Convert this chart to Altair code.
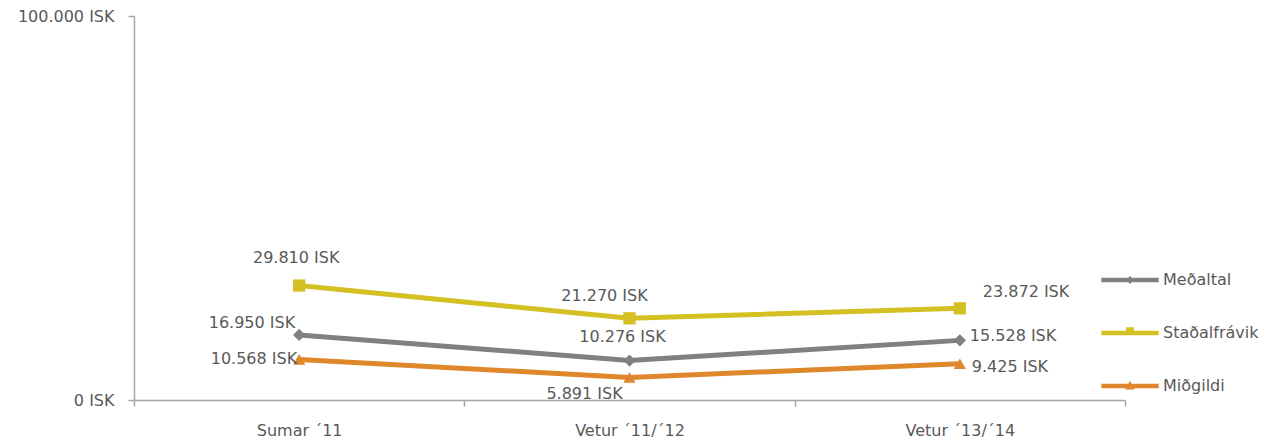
import altair as alt
import pandas as pd

# ---------------- data ----------------
categories = ["Sumar ´11", "Vetur ´11/´12", "Vetur ´13/´14"]
series_names = ["Meðaltal", "Staðalfrávik", "Miðgildi"]
medaltal = [16950, 10276, 15528]
stadalfravik = [29810, 21270, 23872]
midgildi = [10568, 5891, 9425]
y_ticks = [0, 100000]

# ---------------- style ----------------
FONT = "DejaVu Sans"
TEXT = "#595959"
AXIS = "#A6A6A6"
colors = ["#808080", "#D4C023", "#E0862B"]
markers = ["diamond", "square", "triangle-up"]
bar = "M-1,-0.08L1,-0.08L1,0.08L-1,0.08Z"
legend_paths = [
    bar + " M0,-0.14L0.14,0L0,0.14L-0.14,0Z",
    bar + " M-0.14,-0.2L0.14,-0.2L0.14,0.08L-0.14,0.08Z",
    bar + " M0,-0.18L0.16,0.12L-0.16,0.12Z",
]
# label placement per (series, category index): align, dx, dy
label_style = {
    ("Staðalfrávik", 0): ("center", -3, -28),
    ("Meðaltal", 0): ("right", -4, -12),
    ("Miðgildi", 0): ("right", -2, 0),
    ("Staðalfrávik", 1): ("center", -25, -22),
    ("Meðaltal", 1): ("center", -7, -24),
    ("Miðgildi", 1): ("center", -45, 17),
    ("Staðalfrávik", 2): ("left", 23, -16),
    ("Meðaltal", 2): ("left", 10, -4),
    ("Miðgildi", 2): ("left", 12, 3),
}

rows = []
for name, vals in zip(series_names, [medaltal, stadalfravik, midgildi]):
    for cat, v in zip(categories, vals):
        rows.append({"series": name, "category": cat, "value": v})
df = pd.DataFrame(rows)

fmt = "replace(format(datum.value, ',d'), ',', '.') + ' ISK'"

x_enc = alt.X(
    "category:N",
    sort=categories,
    scale=alt.Scale(type="band", domain=categories, paddingInner=0, paddingOuter=0),
    axis=alt.Axis(
        title=None, tickBand="extent", labelAngle=0, labelFontSize=16,
        labelColor=TEXT, labelFont=FONT, labelPadding=16, tickSize=6,
        domainColor=AXIS, tickColor=AXIS, domainWidth=1.5, tickWidth=1.5, grid=False,
    ),
)
y_enc = alt.Y(
    "value:Q",
    scale=alt.Scale(domain=[0, 100000]),
    axis=alt.Axis(
        values=y_ticks, labelExpr=fmt, title=None, grid=False, tickSize=6,
        labelPadding=14, labelFontSize=16, labelColor=TEXT, labelFont=FONT,
        domainColor=AXIS, tickColor=AXIS, domainWidth=1.5, tickWidth=1.5,
    ),
)

color_scale = alt.Scale(domain=series_names, range=colors)

base = alt.Chart(df)

lines = base.mark_line(strokeWidth=5).encode(
    x=x_enc, y=y_enc,
    color=alt.Color("series:N", scale=color_scale, legend=None),
)
points = base.mark_point(filled=True, size=150, opacity=1).encode(
    x=x_enc, y=y_enc,
    color=alt.Color("series:N", scale=color_scale, legend=None),
    shape=alt.Shape("series:N", scale=alt.Scale(domain=series_names, range=markers), legend=None),
)

leg = alt.Legend(
    title=None, orient="none", legendX=967, legendY=235, symbolSize=3300,
    symbolStrokeWidth=0, symbolOpacity=1, labelFontSize=16, labelColor=TEXT,
    labelFont=FONT, labelOffset=4, rowPadding=16, padding=0,
)
legend_layer = base.transform_filter("false").mark_point(filled=True, opacity=1).encode(
    color=alt.Color("series:N", scale=color_scale, legend=leg),
    shape=alt.Shape("series:N", scale=alt.Scale(domain=series_names, range=legend_paths), legend=leg),
)

text_layers = []
for (sname, ci), (align, dx, dy) in label_style.items():
    cat = categories[ci]
    t = (
        base.transform_filter((alt.datum.series == sname) & (alt.datum.category == cat))
        .transform_calculate(label=fmt)
        .mark_text(align=align, baseline="middle", dx=dx, dy=dy, fontSize=16, font=FONT, color=TEXT)
        .encode(x=x_enc, y=y_enc, text="label:N")
    )
    text_layers.append(t)

chart = (
    alt.layer(lines, points, *text_layers, legend_layer)
    .resolve_scale(color="independent", shape="independent")
    .properties(width=991, height=384, padding={"left": 9, "top": 0, "right": 0, "bottom": 0})
    .configure_view(stroke=None)
)

chart.save("out.html", embed_options={"renderer": "svg", "actions": False})
